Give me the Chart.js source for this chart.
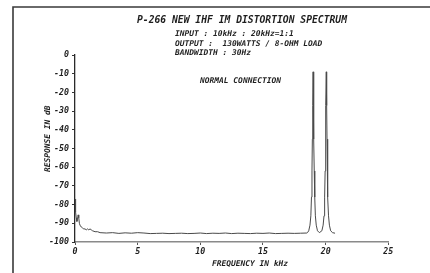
<!DOCTYPE html>
<html>
<head>
<meta charset="utf-8">
<script src="https://cdn.jsdelivr.net/npm/chart.js@4/dist/chart.umd.min.js"></script>
<style>
  html, body { margin: 0; padding: 0; background: #ffffff; }
  #wrap { width: 430px; height: 273px; position: relative; }
</style>
</head>
<body>
<div id="wrap"><canvas id="c" width="430" height="273"></canvas></div>
<script>
// ---- data ----
const chartTitle = "P-266 NEW IHF IM DISTORTION SPECTRUM";
const infoLines = ["INPUT : 10kHz : 20kHz=1:1", "OUTPUT :  130WATTS / 8-OHM LOAD", "BANDWIDTH : 30Hz"];
const noteText = "NORMAL CONNECTION";
const xAxisTitle = "FREQUENCY IN kHz";
const yAxisTitle = "RESPONSE IN dB";
const xTickValues = [0, 5, 10, 15, 20, 25];
const yTickValues = [0, -10, -20, -30, -40, -50, -60, -70, -80, -90, -100];

// low-frequency region and noise floor (kHz / dB)
const floorFreq = [0, 0.03, 0.06, 0.1, 0.15, 0.2, 0.25, 0.3, 0.35, 0.4, 0.5, 0.6, 0.7, 0.8, 0.9, 1.0, 1.1, 1.2, 1.3, 1.4, 1.6, 1.8, 2.0,
  2.5, 3, 3.5, 4, 4.5, 5, 5.5, 6, 6.5, 7, 7.5, 8, 8.5, 9, 9.5, 10, 10.5, 11, 11.5, 12, 12.5, 13, 13.5, 14, 14.5, 15, 15.5, 16, 16.5, 17, 17.5, 18, 18.5];
const floorDb = [-77, -80, -84, -87, -89, -88, -85.5, -87, -90, -91, -92, -92.5, -93, -93, -93.5, -93, -93.5, -93, -93.5, -94, -94.5, -94.5, -95,
  -95.2, -95, -95.4, -95.1, -95.3, -95, -95.2, -95.5, -95.4, -95.3, -95.5, -95.4, -95.3, -95.5, -95.4, -95.2, -95.5, -95.3, -95.4, -95.2, -95.5, -95.3, -95.4, -95.5, -95.3, -95.4, -95.2, -95.5, -95.4, -95.3, -95.4, -95.3, -95.2];

// the two test tones (19 kHz and 20 kHz)
const toneFreq = [18.55, 18.65, 18.75, 18.82, 18.87, 18.91, 18.94, 18.97, 19.0, 19.03, 19.06, 19.09, 19.13, 19.18, 19.25, 19.35, 19.5,
  19.7, 19.8, 19.87, 19.92, 19.96, 19.99, 20.02, 20.05, 20.08, 20.11, 20.14, 20.18, 20.23, 20.3, 20.4, 20.55, 20.75];
const toneDb = [-95, -94, -91, -86, -76, -62, -45, -27, -9, -27, -45, -62, -76, -86, -91, -94, -95,
  -94, -91, -86, -76, -62, -45, -27, -9, -27, -45, -62, -76, -86, -91, -94, -95, -95.3];

// ---- build chart ----
const allFreq = floorFreq.concat(toneFreq);
const allDb = floorDb.concat(toneDb);
const points = allFreq.map((f, i) => ({ x: f, y: allDb[i] }));

const MONO = '"DejaVu Sans Mono", "Liberation Mono", monospace';
const INK = '#1e1e1e';

const decor = {
  id: 'decor',
  beforeDraw(chart) {
    const ctx = chart.ctx;
    ctx.save();
    ctx.fillStyle = '#ffffff';
    ctx.fillRect(0, 0, chart.width, chart.height);
    // frame (partially visible)
    ctx.strokeStyle = '#3a3a3a';
    ctx.lineWidth = 1.6;
    ctx.beginPath();
    ctx.moveTo(430, 7);
    ctx.lineTo(13, 7);
    ctx.lineTo(13, 273);
    ctx.stroke();
    ctx.restore();
  },
  afterDraw(chart) {
    const ctx = chart.ctx;
    ctx.save();
    ctx.fillStyle = INK;
    ctx.textBaseline = 'middle';
    // title
    ctx.font = 'italic bold 9.7px ' + MONO;
    ctx.textAlign = 'center';
    ctx.fillText(chartTitle, 242, 20);
    // info lines
    ctx.font = 'italic bold 7.9px ' + MONO;
    ctx.textAlign = 'left';
    const infoY = [34.3, 44, 53.3];
    infoLines.forEach((t, i) => ctx.fillText(t, 175, infoY[i]));
    // note
    ctx.textAlign = 'center';
    ctx.fillText(noteText, 240.5, 81);
    // x axis title
    ctx.fillText(xAxisTitle, 250, 264);
    // y axis title (rotated)
    ctx.translate(48, 138.7);
    ctx.rotate(-Math.PI / 2);
    ctx.fillText(yAxisTitle, 0, 0);
    ctx.restore();
  }
};

new Chart(document.getElementById('c'), {
  type: 'line',
  data: {
    datasets: [{
      data: points,
      borderColor: '#4a4a4a',
      borderWidth: 1,
      pointRadius: 0,
      tension: 0,
      fill: false
    }]
  },
  options: {
    responsive: false,
    animation: false,
    devicePixelRatio: 1,
    layout: { padding: { left: 0, top: 55, right: 41.7, bottom: 0 } },
    plugins: { legend: { display: false }, title: { display: false }, tooltip: { enabled: false } },
    scales: {
      x: {
        type: 'linear',
        min: 0, max: 25,
        afterBuildTicks(scale) { scale.ticks = xTickValues.map(v => ({ value: v })); },
        afterFit(scale) { scale.height = 31; },
        ticks: {
          color: INK,
          font: { family: MONO, size: 8.3, style: 'italic', weight: 'bold' },
          padding: 2,
          maxRotation: 0,
          callback: v => String(v)
        },
        grid: { drawOnChartArea: false, tickLength: 3, color: '#555' },
        border: { color: '#8a8a8a', width: 1.6 }
      },
      y: {
        min: -100, max: 0,
        afterBuildTicks(scale) { scale.ticks = yTickValues.map(v => ({ value: v })); },
        afterFit(scale) { scale.width = 75; },
        ticks: {
          color: INK,
          font: { family: MONO, size: 8.3, style: 'italic', weight: 'bold' },
          padding: 3,
          callback: v => String(v)
        },
        grid: { drawOnChartArea: false, tickLength: 3, color: '#333' },
        border: { color: '#2a2a2a', width: 1.3 }
      }
    }
  },
  plugins: [decor]
});
</script>
</body>
</html>
